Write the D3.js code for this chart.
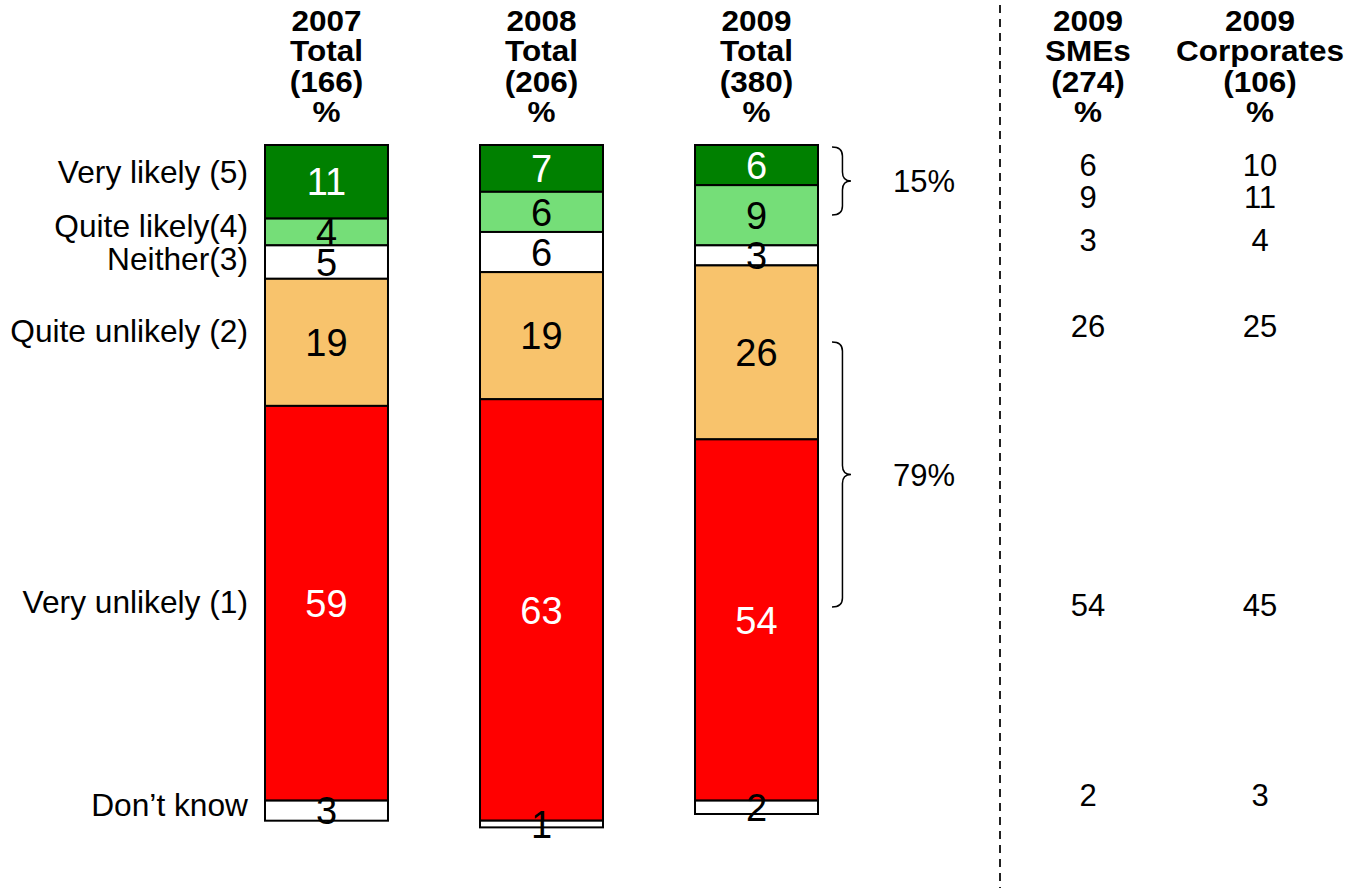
<!DOCTYPE html>
<meta charset="utf-8">
<style>
    body {
        margin: 0;
        background: #fff;
    }
    svg {
        font-family: "Liberation Sans", Arial, sans-serif;
    }
    .head {
        font-weight: bold;
        font-size: 30px;
    }
    .cat {
        font-size: 31.7px;
    }
    .side, .pct {
        font-size: 31px;
    }
    .val {
        font-size: 38px;
    }
</style>
<body>
<script src="https://cdn.jsdelivr.net/npm/d3@7"></script>
<script>
    // categories, top of the bar first
    const categories = ["Very likely (5)", "Quite likely(4)", "Neither(3)", "Quite unlikely (2)", "Very unlikely (1)", "Don\u2019t know"];
    const colors = ["#008000", "#75de78", "#ffffff", "#f8c36c", "#ff0000", "#ffffff"];
    const textColors = ["white", "black", "black", "black", "white", "black"];

    // stacked bars
    const barHeads = [["2007", "Total", "(166)", "%"], ["2008", "Total", "(206)", "%"], ["2009", "Total", "(380)", "%"]];
    const values2007 = [11, 4, 5, 19, 59, 3];
    const values2008 = [7, 6, 6, 19, 63, 1];
    const values2009 = [6, 9, 3, 26, 54, 2];

    // side table
    const sideHeads = [["2009", "SMEs", "(274)", "%"], ["2009", "Corporates", "(106)", "%"]];
    const smes2009 = [6, 9, 3, 26, 54, 2];
    const corporates2009 = [10, 11, 4, 25, 45, 3];

    // brackets on the 2009 bar
    const likelyShare = "15%";
    const unlikelyShare = "79%";

    const width = 1348, height = 888;
    const svg = d3.select("body").append("svg")
        .attr("width", width)
        .attr("height", height);

    const x = d3.scaleBand()
        .domain(barHeads.map(d => d[0]))
        .range([265, 818])
        .paddingInner(0.428)
        .paddingOuter(0);

    const y = d3.scaleLinear()
        .domain([0, 102])
        .range([145, 145 + 102 * 6.69]);

    const sideX = d3.scalePoint()
        .domain(sideHeads.map(d => d[1]))
        .range([1088, 1260]);

    const series = [values2007, values2008, values2009];

    // header text
    function header(lines, cx) {
        const t = svg.append("text")
            .attr("class", "head")
            .attr("text-anchor", "middle")
            .attr("transform", "translate(" + cx + ",0) scale(1.05,1)");
        lines.forEach((s, i) => {
            t.append("tspan").attr("x", 0).attr("y", 31 + i * 30.5).text(s);
        });
    }
    barHeads.forEach(h => header(h, x(h[0]) + x.bandwidth() / 2));
    sideHeads.forEach(h => header(h, sideX(h[1])));

    // stacked bars
    series.forEach((vals, bi) => {
        let acc = 0;
        const segs = vals.map((v, i) => {
            const s = {v: v, i: i, y0: acc, y1: acc + v};
            acc += v;
            return s;
        });
        const g = svg.append("g").attr("class", "bar");
        const bx = x(barHeads[bi][0]);

        g.selectAll("rect")
            .data(segs)
            .enter().append("rect")
            .attr("x", bx)
            .attr("y", d => y(d.y0))
            .attr("width", x.bandwidth())
            .attr("height", d => y(d.y1) - y(d.y0))
            .style("fill", d => colors[d.i])
            .style("stroke", "#000")
            .style("stroke-width", 2);

        g.selectAll("text")
            .data(segs)
            .enter().append("text")
            .attr("class", "val")
            .attr("x", bx + x.bandwidth() / 2)
            .attr("y", d => y((d.y0 + d.y1) / 2))
            .attr("dy", "0.36em")
            .attr("text-anchor", "middle")
            .style("fill", d => textColors[d.i])
            .text(d => d.v);
    });

    // category labels, next to the 2007 bar
    const labelNudge = [-10, -6, -3, -11, -1, -6];
    let acc07 = 0;
    const mids07 = values2007.map(v => { const m = acc07 + v / 2; acc07 += v; return m; });
    svg.selectAll("text.cat")
        .data(categories)
        .enter().append("text")
        .attr("class", "cat")
        .attr("x", 248)
        .attr("y", (d, i) => y(mids07[i]) + labelNudge[i])
        .attr("dy", "0.35em")
        .attr("text-anchor", "end")
        .text(d => d);

    // side table values
    const sideRowY = [165, 197, 240, 326, 605, 795];
    [smes2009, corporates2009].forEach((vals, ci) => {
        svg.append("g").selectAll("text")
            .data(vals)
            .enter().append("text")
            .attr("class", "side")
            .attr("x", sideX(sideHeads[ci][1]))
            .attr("y", (d, i) => sideRowY[i])
            .attr("dy", "0.36em")
            .attr("text-anchor", "middle")
            .text(d => d);
    });

    // curly brackets
    function brace(x0, y1, y2, w) {
        const xm = x0 + w * 0.55, ym = (y1 + y2) / 2, r = Math.min(9, (y2 - y1) / 6);
        return "M" + x0 + "," + y1 +
            " Q" + xm + "," + y1 + " " + xm + "," + (y1 + r) +
            " L" + xm + "," + (ym - r) +
            " Q" + xm + "," + ym + " " + (x0 + w) + "," + ym +
            " Q" + xm + "," + ym + " " + xm + "," + (ym + r) +
            " L" + xm + "," + (y2 - r) +
            " Q" + xm + "," + y2 + " " + x0 + "," + y2;
    }
    const braces = [
        {y1: 147, y2: 215, label: likelyShare},
        {y1: 342, y2: 607, label: unlikelyShare}
    ];
    braces.forEach(b => {
        svg.append("path")
            .attr("d", brace(832, b.y1, b.y2, 19))
            .style("fill", "none")
            .style("stroke", "#000")
            .style("stroke-width", 1.5);
        svg.append("text")
            .attr("class", "pct")
            .attr("x", 924)
            .attr("y", (b.y1 + b.y2) / 2)
            .attr("dy", "0.36em")
            .attr("text-anchor", "middle")
            .text(b.label);
    });

    // dashed divider
    svg.append("line")
        .attr("x1", 1000).attr("x2", 1000)
        .attr("y1", 5).attr("y2", height)
        .style("stroke", "#222")
        .style("stroke-width", 2)
        .style("stroke-dasharray", "8,6");
</script>
</body>
